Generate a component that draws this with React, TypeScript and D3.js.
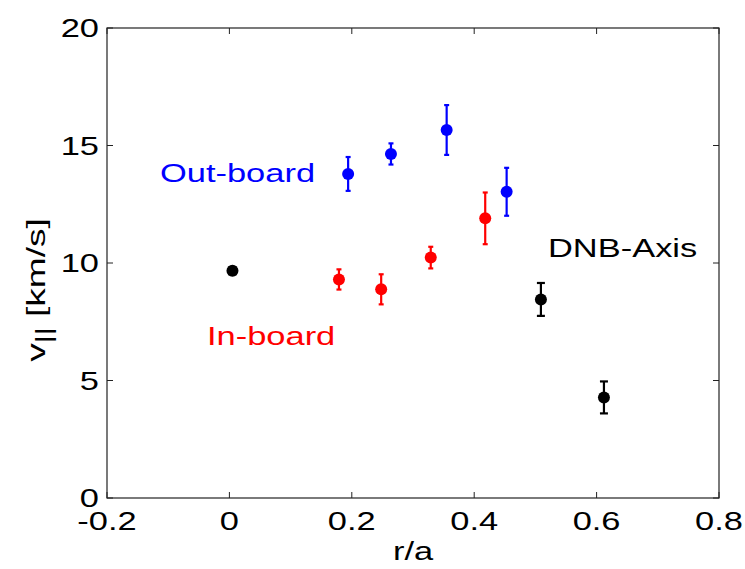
import React from "react";
import * as d3 from "d3";

const outX = [0.194, 0.264, 0.355, 0.453];
const outY = [13.79, 14.64, 15.66, 13.03];
const outErr = [0.72, 0.45, 1.06, 1.02];

const inX = [0.179, 0.248, 0.329, 0.418];
const inY = [9.3, 8.88, 10.23, 11.9];
const inErr = [0.43, 0.64, 0.46, 1.1];

const dnbX = [0.005, 0.509, 0.612];
const dnbY = [9.67, 8.45, 4.28];
const dnbErr = [0.15, 0.7, 0.68];

const xTicks = [-0.2, 0, 0.2, 0.4, 0.6, 0.8];
const yTicks = [0, 5, 10, 15, 20];

const W = 745, H = 569;
const L = 107, R = 719, T = 28, B = 498;
const FS = 26.5;
const FONT = "'Liberation Sans', Arial, Helvetica, sans-serif";

function T2({ x, y, anchor = "start", fill = "#000", rotate = 0, sx = 1.3, children }: any) {
  return (
    <text
      transform={`translate(${x},${y}) rotate(${rotate}) scale(${sx},1)`}
      textAnchor={anchor}
      fill={fill}
      fontSize={FS}
      fontFamily={FONT}
    >
      {children}
    </text>
  );
}

export default function App() {
  const x = d3.scaleLinear().domain([-0.2, 0.8]).range([L, R]);
  const y = d3.scaleLinear().domain([0, 20]).range([B, T]);
  const tl = 6;

  const series = [
    { xs: outX, ys: outY, es: outErr, color: "#0000ff", cap: 2.5 },
    { xs: inX, ys: inY, es: inErr, color: "#ff0000", cap: 2.5 },
    { xs: dnbX, ys: dnbY, es: dnbErr, color: "#000000", cap: 4 },
  ];

  return (
    <svg width={W} height={H} style={{ position: "absolute", left: 0, top: 0, background: "#fff" }}>
      <rect x={0} y={0} width={W} height={H} fill="#fff" />
      {xTicks.map((t) => (
        <g key={"x" + t}>
          <line x1={x(t)} x2={x(t)} y1={B} y2={B - tl} stroke="#222" strokeWidth={1} />
          <line x1={x(t)} x2={x(t)} y1={T} y2={T + tl} stroke="#222" strokeWidth={1} />
          <T2 x={x(t)} y={530} anchor="middle">{String(t)}</T2>
        </g>
      ))}
      {yTicks.map((t) => (
        <g key={"y" + t}>
          <line x1={L} x2={L + tl} y1={y(t)} y2={y(t)} stroke="#222" strokeWidth={1} />
          <line x1={R} x2={R - tl} y1={y(t)} y2={y(t)} stroke="#222" strokeWidth={1} />
          <T2 x={99} y={y(t) + 9} anchor="end">{String(t)}</T2>
        </g>
      ))}
      <rect x={L} y={T} width={R - L} height={B - T} fill="none" stroke="#222" strokeWidth={1.2} />

      {series.map((s, si) => (
        <g key={si}>
          {s.xs.map((xv, i) => {
            const cx = x(xv), cy = y(s.ys[i]);
            const y1 = y(s.ys[i] + s.es[i]), y2 = y(s.ys[i] - s.es[i]);
            return (
              <g key={i}>
                <line x1={cx} x2={cx} y1={y1} y2={y2} stroke={s.color} strokeWidth={2.2} />
                <line x1={cx - s.cap} x2={cx + s.cap} y1={y1} y2={y1} stroke={s.color} strokeWidth={2.2} />
                <line x1={cx - s.cap} x2={cx + s.cap} y1={y2} y2={y2} stroke={s.color} strokeWidth={2.2} />
                <circle cx={cx} cy={cy} r={6} fill={s.color} />
              </g>
            );
          })}
        </g>
      ))}

      <T2 x={160} y={182} fill="#0000ff">Out-board</T2>
      <T2 x={207} y={345} fill="#ff0000">In-board</T2>
      <T2 x={548} y={257} fill="#000">DNB-Axis</T2>

      <T2 x={413} y={560} anchor="middle">r/a</T2>
      <T2 x={45} y={290} anchor="middle" rotate={-90} sx={1.4}>
        v<tspan fontSize={22} dy={6}>||</tspan>
        <tspan dy={-6}> [km/s]</tspan>
      </T2>
    </svg>
  );
}
